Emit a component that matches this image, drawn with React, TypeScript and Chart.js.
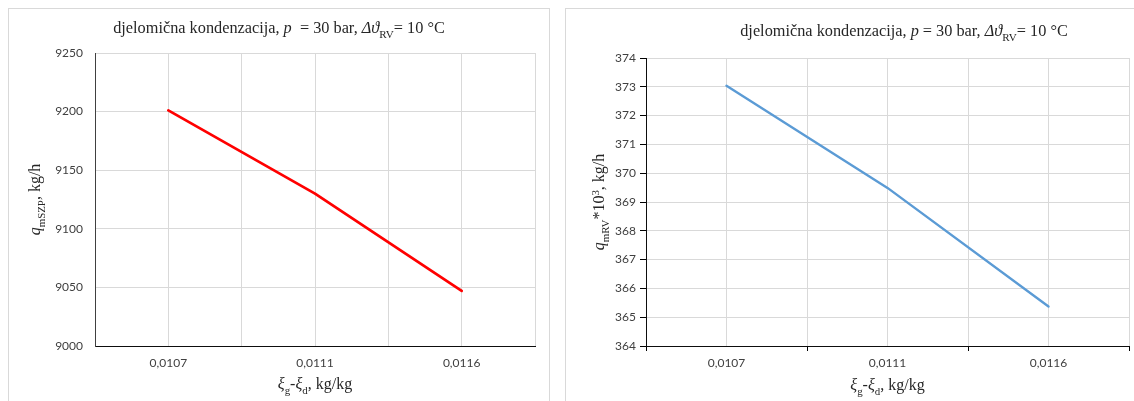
import React, { useEffect, useRef } from 'react';
import { Chart, registerables } from 'chart.js';

Chart.register(...registerables);

// ---- data ----
const categories = ['0,0107', '0,0111', '0,0116'];
const qmSZP = [9201, 9130, 9047];
const qmRV = [373.04, 369.49, 365.37];
const leftYMin = 9000;
const leftYMax = 9250;
const leftYStep = 50;
const rightYMin = 364;
const rightYMax = 374;
const rightYStep = 1;

type Seg = { t: string; i?: boolean; sub?: boolean; sup?: boolean };

const titleLeft: Seg[] = [
  { t: 'djelomična kondenzacija, ' },
  { t: 'p', i: true },
  { t: '  = 30 bar, ' },
  { t: 'Δϑ', i: true },
  { t: 'RV', sub: true },
  { t: '= 10 °C' },
];
const titleRight: Seg[] = [
  { t: 'djelomična kondenzacija, ' },
  { t: 'p', i: true },
  { t: ' = 30 bar, ' },
  { t: 'Δϑ', i: true },
  { t: 'RV', sub: true },
  { t: '= 10 °C' },
];
const xTitle: Seg[] = [
  { t: 'ξ', i: true },
  { t: 'g', sub: true },
  { t: '-' },
  { t: 'ξ', i: true },
  { t: 'd', sub: true },
  { t: ', kg/kg' },
];
const yTitleLeft: Seg[] = [
  { t: 'q', i: true },
  { t: 'mSZP', sub: true },
  { t: ', kg/h' },
];
const yTitleRight: Seg[] = [
  { t: 'q', i: true },
  { t: 'mRV', sub: true },
  { t: '*10' },
  { t: '3', sup: true },
  { t: ', kg/h' },
];

const SERIF = '"Liberation Serif", "Times New Roman", serif';
const SANS = 'Lato, "Liberation Sans", sans-serif';
const TEXT_COLOR = '#262626';
const TICK_COLOR = '#404040';
const GRID = '#d9d9d9';

function segFont(s: Seg, size: number) {
  const sz = s.sub || s.sup ? size * 0.68 : size;
  return `${s.i ? 'italic ' : ''}${sz}px ${SERIF}`;
}

function drawRich(
  ctx: CanvasRenderingContext2D,
  segs: Seg[],
  cx: number,
  cy: number,
  size: number,
  rot: number
) {
  ctx.save();
  ctx.translate(cx, cy);
  ctx.rotate(rot);
  ctx.fillStyle = TEXT_COLOR;
  ctx.textBaseline = 'alphabetic';
  ctx.textAlign = 'left';
  let total = 0;
  const widths: number[] = [];
  for (const s of segs) {
    ctx.font = segFont(s, size);
    const w = ctx.measureText(s.t).width;
    widths.push(w);
    total += w;
  }
  let x = -total / 2;
  const base = size * 0.33;
  segs.forEach((s, k) => {
    ctx.font = segFont(s, size);
    const dy = s.sub ? size * 0.28 : s.sup ? -size * 0.32 : 0;
    ctx.fillText(s.t, x, base + dy);
    x += widths[k];
  });
  ctx.restore();
}

type RichItem = { segs: Seg[]; x: number; y: number; size: number; rot?: number };

function richPlugin(items: (chart: any) => RichItem[]) {
  return {
    id: 'richText',
    afterDraw(chart: any) {
      const ctx = chart.ctx as CanvasRenderingContext2D;
      for (const it of items(chart)) drawRich(ctx, it.segs, it.x, it.y, it.size, it.rot || 0);
    },
  };
}

function catLabel(v: any) {
  const n = Number(v);
  return Number.isInteger(n) && n >= 0 && n < categories.length ? categories[n] : '';
}

function makeConfig(opts: {
  values: number[];
  color: string;
  lineWidth: number;
  yMin: number;
  yMax: number;
  yStep: number;
  yWidth: number;
  padRight: number;
  padTop: number;
  ticks: boolean;
  yBorder: string;
  title: Seg[];
  titleX: number;
  titleY: number;
  yTitle: Seg[];
  yTitleX: number;
  xTitleDy: number;
}) {
  const o = opts;
  return {
    type: 'line' as const,
    data: {
      datasets: [
        {
          data: o.values.map((v, k) => ({ x: k, y: v })),
          borderColor: o.color,
          backgroundColor: o.color,
          borderWidth: o.lineWidth,
          pointRadius: 0,
          tension: 0,
          borderCapStyle: 'round' as const,
          borderJoinStyle: 'round' as const,
          fill: false,
        },
      ],
    },
    options: {
      animation: false as const,
      responsive: false,
      maintainAspectRatio: false,
      layout: { padding: { left: 0, right: o.padRight, top: o.padTop, bottom: 0 } },
      plugins: { legend: { display: false }, tooltip: { enabled: false }, title: { display: false } },
      scales: {
        x: {
          type: 'linear' as const,
          min: -0.5,
          max: 2.5,
          afterFit: (s: any) => {
            s.height = 55;
          },
          ticks: {
            stepSize: 0.5,
            autoSkip: false,
            maxRotation: 0,
            padding: o.ticks ? 5 : 10,
            color: TICK_COLOR,
            font: { family: SANS, size: 12 },
            callback: (v: any) => catLabel(v),
          },
          grid: {
            color: GRID,
            lineWidth: 1,
            drawTicks: o.ticks,
            tickLength: 5,
            tickColor: (c: any) =>
              c.tick && !Number.isInteger(Number(c.tick.value)) ? '#000' : 'rgba(0,0,0,0)',
          },
          border: { color: '#0d0d0d', width: 1 },
        },
        y: {
          type: 'linear' as const,
          min: o.yMin,
          max: o.yMax,
          afterFit: (s: any) => {
            s.width = o.yWidth;
          },
          ticks: {
            stepSize: o.yStep,
            padding: o.ticks ? 4 : 12,
            color: TICK_COLOR,
            font: { family: SANS, size: 12 },
            callback: (v: any) => String(v),
          },
          grid: {
            color: GRID,
            lineWidth: 1,
            drawTicks: o.ticks,
            tickLength: 6,
            tickColor: '#000',
          },
          border: { color: o.yBorder, width: 1 },
        },
      },
    },
    plugins: [
      richPlugin((chart: any) => {
        const a = chart.chartArea;
        return [
          { segs: o.title, x: o.titleX, y: o.titleY, size: 16.3 },
          { segs: xTitle, x: (a.left + a.right) / 2, y: a.bottom + o.xTitleDy, size: 16 },
          { segs: o.yTitle, x: o.yTitleX, y: (a.top + a.bottom) / 2, size: 16, rot: -Math.PI / 2 },
        ];
      }),
    ],
  };
}

function ChartCanvas({ config, left, width }: { config: () => any; left: number; width: number }) {
  const ref = useRef<HTMLCanvasElement>(null);
  useEffect(() => {
    const chart = new Chart(ref.current as HTMLCanvasElement, config());
    return () => chart.destroy();
  }, []);
  return (
    <canvas
      ref={ref}
      width={width}
      height={401}
      style={{ position: 'absolute', left, top: 0, width, height: 401 }}
    />
  );
}

export default function App() {
  const leftCfg = () =>
    makeConfig({
      values: qmSZP,
      color: '#ff0000',
      lineWidth: 2.75,
      yMin: leftYMin,
      yMax: leftYMax,
      yStep: leftYStep,
      yWidth: 95,
      padRight: 23,
      padTop: 53,
      ticks: false,
      yBorder: '#404040',
      title: titleLeft,
      titleX: 279,
      titleY: 28,
      yTitle: yTitleLeft,
      yTitleX: 35,
      xTitleDy: 38,
    });
  const rightCfg = () =>
    makeConfig({
      values: qmRV,
      color: '#5b9bd5',
      lineWidth: 2.4,
      yMin: rightYMin,
      yMax: rightYMax,
      yStep: rightYStep,
      yWidth: 88,
      padRight: 2,
      padTop: 58,
      ticks: true,
      yBorder: '#0d0d0d',
      title: titleRight,
      titleX: 346,
      titleY: 31,
      yTitle: yTitleRight,
      yTitleX: 41,
      xTitleDy: 39,
    });
  return (
    <div
      style={{
        position: 'fixed',
        left: 0,
        top: 0,
        width: 1134,
        height: 401,
        overflow: 'hidden',
        background: '#fff',
      }}
    >
      <ChartCanvas config={leftCfg} left={0} width={558} />
      <ChartCanvas config={rightCfg} left={558} width={576} />
      <div
        style={{
          position: 'absolute',
          left: 8,
          top: 8,
          width: 542,
          height: 500,
          border: '1px solid #d9d9d9',
          boxSizing: 'border-box',
          pointerEvents: 'none',
        }}
      />
      <div
        style={{
          position: 'absolute',
          left: 565,
          top: 8,
          width: 700,
          height: 500,
          border: '1px solid #d9d9d9',
          boxSizing: 'border-box',
          pointerEvents: 'none',
        }}
      />
    </div>
  );
}
